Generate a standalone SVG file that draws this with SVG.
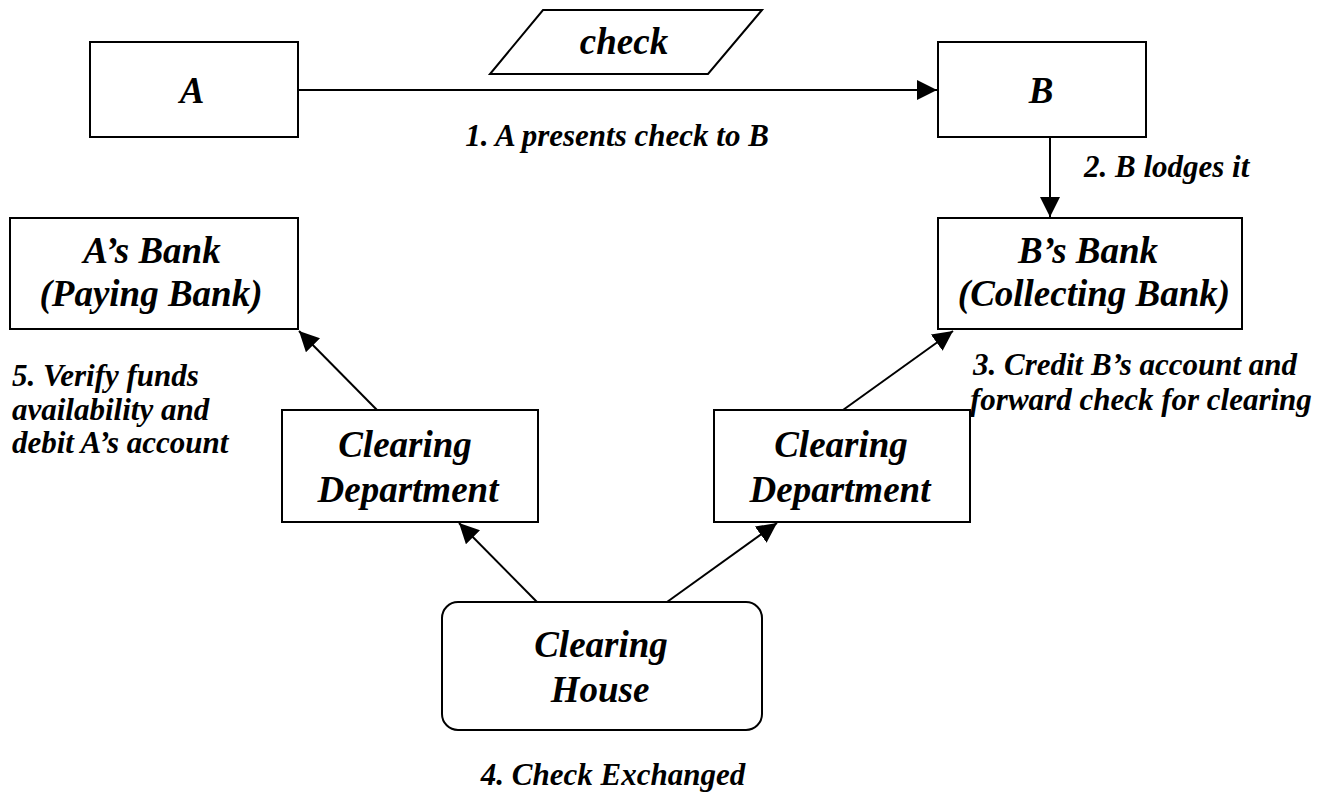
<svg xmlns="http://www.w3.org/2000/svg" width="1336" height="795" viewBox="0 0 1336 795">
<defs>
<marker id="ah" markerUnits="userSpaceOnUse" markerWidth="20" markerHeight="20" refX="20" refY="10" orient="auto" viewBox="0 0 20 20">
<path d="M0,0 L20,10 L0,20 Z" fill="#000"/>
</marker>
</defs>
<rect width="1336" height="795" fill="#fff"/>
<g id="connectors" stroke="#000" stroke-width="2" fill="none">
<line x1="298" y1="90" x2="937" y2="90" marker-end="url(#ah)"/>
<line x1="1050" y1="137" x2="1050" y2="217" marker-end="url(#ah)"/>
<line x1="377" y1="410" x2="299" y2="331" marker-end="url(#ah)"/>
<line x1="843" y1="410" x2="953" y2="331" marker-end="url(#ah)"/>
<line x1="537" y1="602" x2="459" y2="523" marker-end="url(#ah)"/>
<line x1="667" y1="602" x2="777" y2="523" marker-end="url(#ah)"/>
</g>
<g id="node-A">
<rect x="90" y="42" width="208" height="95" fill="#fff" stroke="#000" stroke-width="2"/>
<text x="192" y="103" font-family="Times New Roman, Liberation Serif, serif" font-weight="bold" font-style="italic" font-size="37" text-anchor="middle">A</text>
</g>
<g id="node-check">
<polygon points="543,10 762,10 708,74 490,74" fill="#fff" stroke="#000" stroke-width="2"/>
<text x="624" y="54" font-family="Times New Roman, Liberation Serif, serif" font-weight="bold" font-style="italic" font-size="37" text-anchor="middle">check</text>
</g>
<g id="node-B">
<rect x="938" y="42" width="208" height="95" fill="#fff" stroke="#000" stroke-width="2"/>
<text x="1041" y="103" font-family="Times New Roman, Liberation Serif, serif" font-weight="bold" font-style="italic" font-size="37" text-anchor="middle">B</text>
</g>
<g id="node-As-bank">
<rect x="10" y="218" width="288" height="111" fill="#fff" stroke="#000" stroke-width="2"/>
<text x="152" y="263" font-family="Times New Roman, Liberation Serif, serif" font-weight="bold" font-style="italic" font-size="37" text-anchor="middle">A’s Bank</text>
<text x="151" y="306" font-family="Times New Roman, Liberation Serif, serif" font-weight="bold" font-style="italic" font-size="37" text-anchor="middle">(Paying Bank)</text>
</g>
<g id="node-Bs-bank">
<rect x="938" y="218" width="304" height="111" fill="#fff" stroke="#000" stroke-width="2"/>
<text x="1088" y="263" font-family="Times New Roman, Liberation Serif, serif" font-weight="bold" font-style="italic" font-size="37" text-anchor="middle">B’s Bank</text>
<text x="1094" y="306" font-family="Times New Roman, Liberation Serif, serif" font-weight="bold" font-style="italic" font-size="37" text-anchor="middle">(Collecting Bank)</text>
</g>
<g id="node-clearing-left">
<rect x="282" y="410" width="256" height="112" fill="#fff" stroke="#000" stroke-width="2"/>
<text x="405" y="457" font-family="Times New Roman, Liberation Serif, serif" font-weight="bold" font-style="italic" font-size="37" text-anchor="middle">Clearing</text>
<text x="408" y="502" font-family="Times New Roman, Liberation Serif, serif" font-weight="bold" font-style="italic" font-size="37" text-anchor="middle">Department</text>
</g>
<g id="node-clearing-right">
<rect x="714" y="410" width="256" height="112" fill="#fff" stroke="#000" stroke-width="2"/>
<text x="841" y="457" font-family="Times New Roman, Liberation Serif, serif" font-weight="bold" font-style="italic" font-size="37" text-anchor="middle">Clearing</text>
<text x="840" y="502" font-family="Times New Roman, Liberation Serif, serif" font-weight="bold" font-style="italic" font-size="37" text-anchor="middle">Department</text>
</g>
<g id="node-clearing-house">
<rect x="442" y="602" width="320" height="128" rx="16" ry="16" fill="#fff" stroke="#000" stroke-width="2"/>
<text x="601" y="657" font-family="Times New Roman, Liberation Serif, serif" font-weight="bold" font-style="italic" font-size="37" text-anchor="middle">Clearing</text>
<text x="600" y="702" font-family="Times New Roman, Liberation Serif, serif" font-weight="bold" font-style="italic" font-size="37" text-anchor="middle">House</text>
</g>
<g id="labels">
<text x="617" y="146" font-family="Times New Roman, Liberation Serif, serif" font-weight="bold" font-style="italic" font-size="31" text-anchor="middle">1. A presents check to B</text>
<text x="1084" y="177" font-family="Times New Roman, Liberation Serif, serif" font-weight="bold" font-style="italic" font-size="31">2. B lodges it</text>
<text x="973" y="375" font-family="Times New Roman, Liberation Serif, serif" font-weight="bold" font-style="italic" font-size="31">3. Credit B’s account and</text>
<text x="970" y="410" font-family="Times New Roman, Liberation Serif, serif" font-weight="bold" font-style="italic" font-size="31">forward check for clearing</text>
<text x="12" y="386" font-family="Times New Roman, Liberation Serif, serif" font-weight="bold" font-style="italic" font-size="31">5. Verify funds</text>
<text x="12" y="420" font-family="Times New Roman, Liberation Serif, serif" font-weight="bold" font-style="italic" font-size="31">availability and</text>
<text x="12" y="453" font-family="Times New Roman, Liberation Serif, serif" font-weight="bold" font-style="italic" font-size="31">debit A’s account</text>
<text x="613" y="785" font-family="Times New Roman, Liberation Serif, serif" font-weight="bold" font-style="italic" font-size="31" text-anchor="middle">4. Check Exchanged</text>
</g>
</svg>
